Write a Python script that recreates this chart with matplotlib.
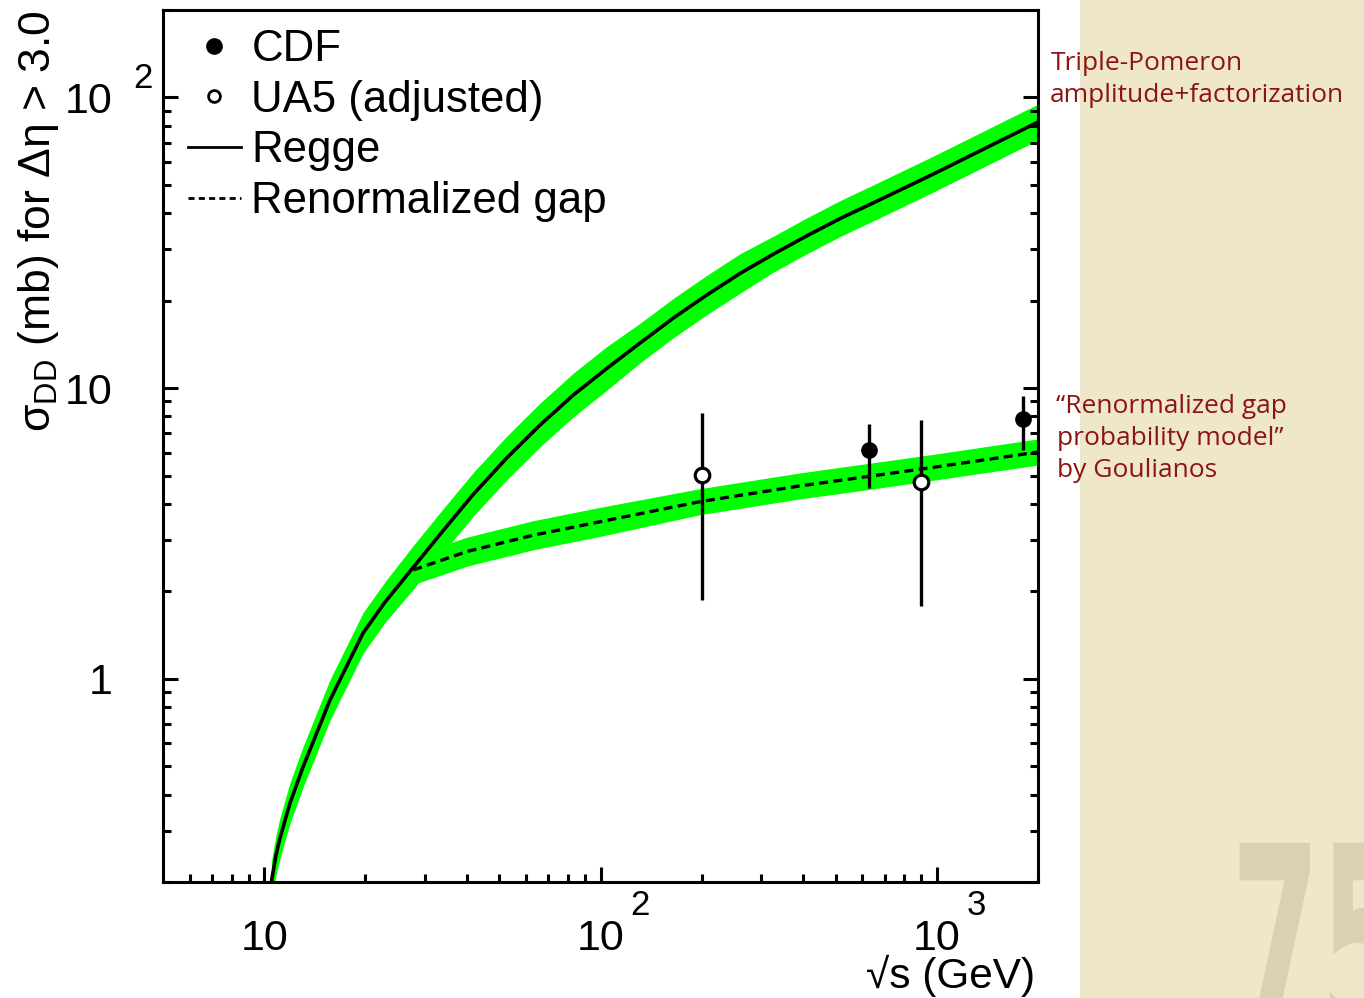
import matplotlib
matplotlib.use("Agg")
import matplotlib.pyplot as plt
from matplotlib.ticker import FixedLocator, FixedFormatter, LogLocator, NullFormatter
from matplotlib.lines import Line2D
from matplotlib.patches import Rectangle, PathPatch
from matplotlib.textpath import TextPath
from matplotlib.font_manager import FontProperties
from matplotlib.transforms import Affine2D, IdentityTransform

plt.rcParams['font.family'] = ['Liberation Sans', 'DejaVu Sans']

# Regge (triple-Pomeron amplitude + factorization) prediction and its band
regge_sqrt_s = [10.5, 10.84, 11.14, 11.93, 13.04, 15.69, 19.67, 22.87, 27.5, 33.3, 41.8,
                52.6, 66.1, 83.0, 104.3, 131.0, 164.6, 206.9, 259.8, 326.4, 410.2,
                515.3, 677.6, 976, 2000]
regge_sigma = [0.2, 0.2477, 0.2834, 0.374, 0.497, 0.846, 1.437, 1.837, 2.387, 3.136, 4.306,
               5.748, 7.468, 9.468, 11.68, 14.29, 17.42, 20.9, 24.8, 28.9, 33.4,
               38.3, 44.5, 54.5, 82.3]
regge_low = [0.170, 0.2108, 0.2412, 0.3183, 0.423, 0.720, 1.223, 1.563, 2.008, 2.638, 3.622,
             4.834, 6.281, 7.963, 9.823, 12.22, 14.90, 17.88, 21.21, 25.07, 28.97,
             33.22, 38.59, 47.27, 71.4]
regge_high = [0.235, 0.291, 0.333, 0.4395, 0.584, 0.994, 1.688, 2.158, 2.838, 3.729, 5.120,
              6.834, 8.880, 11.26, 13.89, 16.71, 20.36, 24.43, 28.99, 33.32, 38.51,
              44.16, 51.31, 62.84, 94.9]

# Renormalized gap probability prediction and its band
gap_sqrt_s = [27.76, 40.0, 63.1, 99.6, 197.6, 391.8, 618.6, 976, 2000]
gap_sigma = [2.37, 2.74, 3.12, 3.47, 4.07, 4.61, 4.96, 5.34, 6.03]
gap_low = [2.11, 2.44, 2.78, 3.09, 3.67, 4.16, 4.47, 4.82, 5.44]
gap_high = [2.66, 3.07, 3.50, 3.89, 4.51, 5.11, 5.50, 5.92, 6.69]

# Measurements (value, lower and upper end of the error bar)
cdf_sqrt_s = [630, 1800]
cdf_sigma = [6.12, 7.81]
cdf_bar_low = [4.52, 6.12]
cdf_bar_high = [7.51, 9.39]

ua5_sqrt_s = [200, 900]
ua5_sigma = [5.02, 4.77]
ua5_bar_low = [1.87, 1.78]
ua5_bar_high = [8.19, 7.77]

x_major = [10, 100, 1000]
x_major_labels = ['10', '10', '10']
x_exponents = {100: '2', 1000: '3'}
y_major = [1, 10, 100]
y_major_labels = ['1', '10', '10']
y_exponents = {100: '2'}

W, H = 1364, 998
fig = plt.figure(figsize=(W / 100, H / 100), dpi=100)
fig.patch.set_facecolor('white')

# parchment side panel with faded slide number
fig.add_artist(Rectangle((1080 / W, 0), 1 - 1080 / W, 1, transform=fig.transFigure,
                         facecolor='#efe7ca', edgecolor='none', zorder=0))
num_path = TextPath((0, 0), '75', size=1,
                    prop=FontProperties(family='DejaVu Sans', weight='bold'))
fig.add_artist(PathPatch(num_path,
                         transform=Affine2D().scale(128, 272).translate(1231, -43) + IdentityTransform(),
                         facecolor='#dad1b3', edgecolor='none', zorder=0.5))

ax = fig.add_axes([163 / W, (H - 882) / H, 875 / W, 872 / H])
ax.set_xscale('log')
ax.set_yscale('log')
ax.set_xlim(5, 2000)
ax.set_ylim(0.2, 200)

green = '#00ff00'
ax.fill_between(regge_sqrt_s, regge_low, regge_high, color=green, lw=0, zorder=1)
ax.fill_between(gap_sqrt_s, gap_low, gap_high, color=green, lw=0, zorder=1)
ax.plot(regge_sqrt_s, regge_sigma, color='black', lw=2.6, zorder=2)
ax.plot(gap_sqrt_s, gap_sigma, color='black', lw=2.4, ls=(0, (2.7, 1.6)), zorder=2)

ua5_err = [[v - lo for v, lo in zip(ua5_sigma, ua5_bar_low)],
           [hi - v for v, hi in zip(ua5_sigma, ua5_bar_high)]]
cdf_err = [[v - lo for v, lo in zip(cdf_sigma, cdf_bar_low)],
           [hi - v for v, hi in zip(cdf_sigma, cdf_bar_high)]]
ax.errorbar(ua5_sqrt_s, ua5_sigma, yerr=ua5_err, fmt='o', color='black', ms=10.5,
            mfc='white', mec='black', mew=2.3, elinewidth=2.4, capsize=0, zorder=3)
ax.errorbar(cdf_sqrt_s, cdf_sigma, yerr=cdf_err, fmt='o', color='black', ms=11,
            elinewidth=2.4, capsize=0, zorder=3)

# axes frame and ticks
for sp in ax.spines.values():
    sp.set_linewidth(2.2)
ax.xaxis.set_major_locator(FixedLocator(x_major))
ax.xaxis.set_major_formatter(FixedFormatter(x_major_labels))
ax.xaxis.set_minor_locator(LogLocator(base=10, subs=range(2, 10), numticks=30))
ax.xaxis.set_minor_formatter(NullFormatter())
ax.yaxis.set_major_locator(FixedLocator(y_major))
ax.yaxis.set_major_formatter(FixedFormatter(y_major_labels))
ax.yaxis.set_minor_locator(LogLocator(base=10, subs=range(2, 10), numticks=30))
ax.yaxis.set_minor_formatter(NullFormatter())
ax.tick_params(which='both', direction='in', top=False, right=True, width=2.2,
               labelsize=31, color='black')
ax.tick_params(which='major', length=11)
ax.tick_params(which='minor', length=5.5)
ax.tick_params(axis='x', which='major', pad=49)
ax.tick_params(axis='y', which='major', pad=36)
for lab in ax.get_xticklabels():
    lab.set_verticalalignment('baseline')

for xv, e in x_exponents.items():
    ax.annotate(e, xy=(xv, 0), xycoords=('data', 'axes fraction'),
                xytext=(29.5 * 0.72, -33 * 0.72), textcoords='offset points',
                ha='left', va='baseline', fontsize=25)
for yv, e in y_exponents.items():
    ax.annotate(e, xy=(0, yv), xycoords=('axes fraction', 'data'),
                xytext=(-30 * 0.72, 9.5 * 0.72), textcoords='offset points',
                ha='left', va='baseline', fontsize=25)

ax.set_ylabel('σ$_{\\mathregular{DD}}$ (mb) for Δη > 3.0', fontsize=32, loc='top')
ax.yaxis.set_label_coords(-0.1166, 1.0)
ax.set_xlabel('√s (GeV)', fontsize=30.5, loc='right')
ax.xaxis.set_label_coords(0.9966, -0.0835)

handles = [
    Line2D([], [], marker='o', ls='none', color='black', ms=11),
    Line2D([], [], marker='o', ls='none', mfc='white', mec='black', mew=2, ms=8.5),
    Line2D([], [], color='black', lw=2),
    Line2D([], [], color='black', lw=2, ls=(0, (2.2, 1.5))),
]
labels = ['CDF', 'UA5 (adjusted)', 'Regge', 'Renormalized gap']
ax.legend(handles, labels, loc='upper left', bbox_to_anchor=(25 / 875, 0.978),
          frameon=False, fontsize=31.5, handlelength=1.2, handletextpad=0.25,
          labelspacing=0.22, borderpad=0, borderaxespad=0, numpoints=1)

# commentary on the side panel
note_color = '#8c1414'
note_font = dict(family='Open Sans', fontsize=19, color=note_color, va='baseline', ha='left')
fig.text(1051 / W, 1 - 70 / H, 'Triple-Pomeron', **note_font)
fig.text(1050 / W, 1 - 102 / H, 'amplitude+factorization', **note_font)
fig.text(1056 / W, 1 - 413 / H, '\u201cRenormalized gap', **note_font)
fig.text(1057 / W, 1 - 445 / H, 'probability model\u201d', **note_font)
fig.text(1057 / W, 1 - 477 / H, 'by Goulianos', **note_font)

fig.savefig('out.png', dpi=100)
